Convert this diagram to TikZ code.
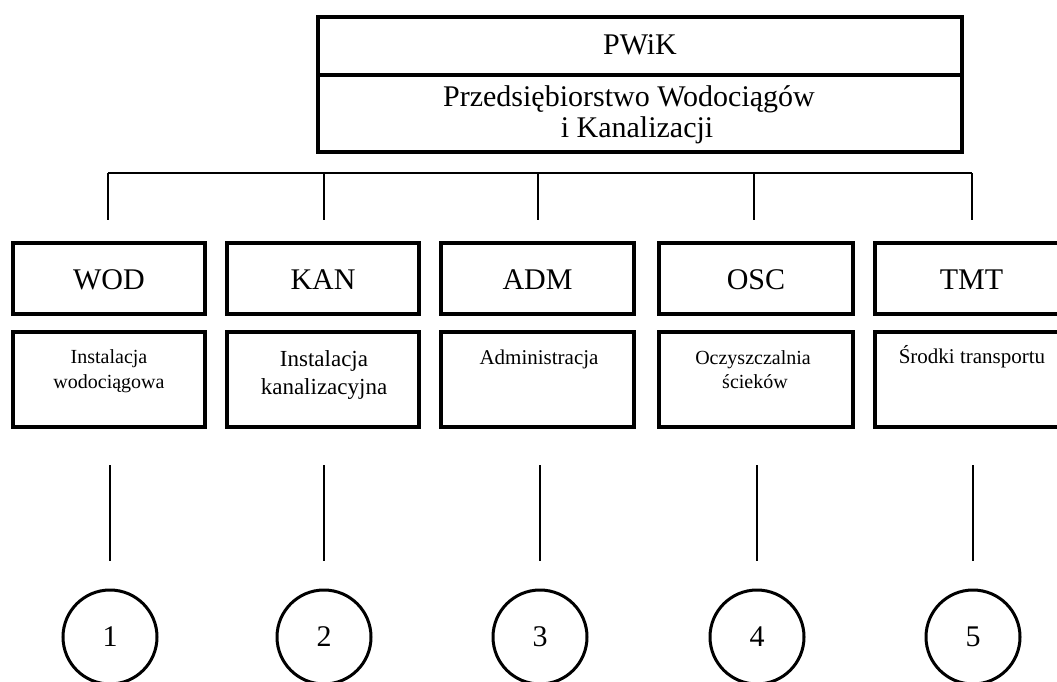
\documentclass[tikz,border=0pt]{standalone}
\usepackage{fontspec}
\setmainfont{Liberation Serif}
\begin{document}
\begin{tikzpicture}[x=1pt,y=-1pt,
  boxa/.style={draw,line width=3.6pt,inner sep=0pt},
  conn/.style={line width=1.6pt},
  circ/.style={draw,line width=3pt,circle,minimum size=94pt,inner sep=0pt,font=\fontsize{30}{32}\selectfont},
  big/.style={font=\fontsize{30}{32}\selectfont},
  lbl/.style={anchor=base,inner sep=0pt,font=\fontsize{#1}{#1}\selectfont}]
\useasboundingbox (0,0) rectangle (1057,682);
% top box
\draw[boxa] (318,17) rectangle (962,152);
\draw[line width=3.6pt] (318,75) -- (962,75);
\node[big] (pwik) at (640,45) {PWiK};
\node[lbl=30] (name1) at (629,107) {Przedsiębiorstwo Wodociągów};
\node[lbl=30] (name2) at (637,138) {i Kanalizacji};
% connector
\coordinate (h1) at (108,173);
\coordinate (h5) at (972,173);
\draw[conn] (h1) -- (h5);
\foreach \x/\n in {108/1,324/2,538/3,754/4,972/5}{
  \coordinate (t\n) at (\x,173);
  \coordinate (b\n) at (\x,220);
  \draw[conn] (t\n) -- (b\n);
}
% top row boxes
\foreach \l/\r/\t/\n in {13/205/WOD/1,227/419/KAN/2,441/634/ADM/3,659/853/OSC/4,875/1068/TMT/5}{
  \draw[boxa] (\l,243) rectangle (\r,314);
  \node[big] (k\n) at ({(\l+\r)/2},280) {\t};
  \draw[boxa] (\l,332) rectangle (\r,427);
}
\node[lbl=20] (d1a) at (109,363) {Instalacja};
\node[lbl=20] (d1b) at (109,388) {wodociągowa};
\node[lbl=23] (d2a) at (324,366) {Instalacja};
\node[lbl=23] (d2b) at (324,394) {kanalizacyjna};
\node[lbl=21] (d3) at (539,364) {Administracja};
\node[lbl=20] (d4a) at (753,364) {Oczyszczalnia};
\node[lbl=20] (d4b) at (755,388) {ścieków};
\node[lbl=21] (d5) at (972,363) {Środki transportu};
% lower lines and circles
\foreach \x/\n in {110/1,324/2,540/3,757/4,973/5}{
  \coordinate (u\n) at (\x,465);
  \coordinate (v\n) at (\x,561);
  \draw[conn] (u\n) -- (v\n);
  \node[circ] (c\n) at (\x,637) {\n};
}
\end{tikzpicture}
\end{document}
